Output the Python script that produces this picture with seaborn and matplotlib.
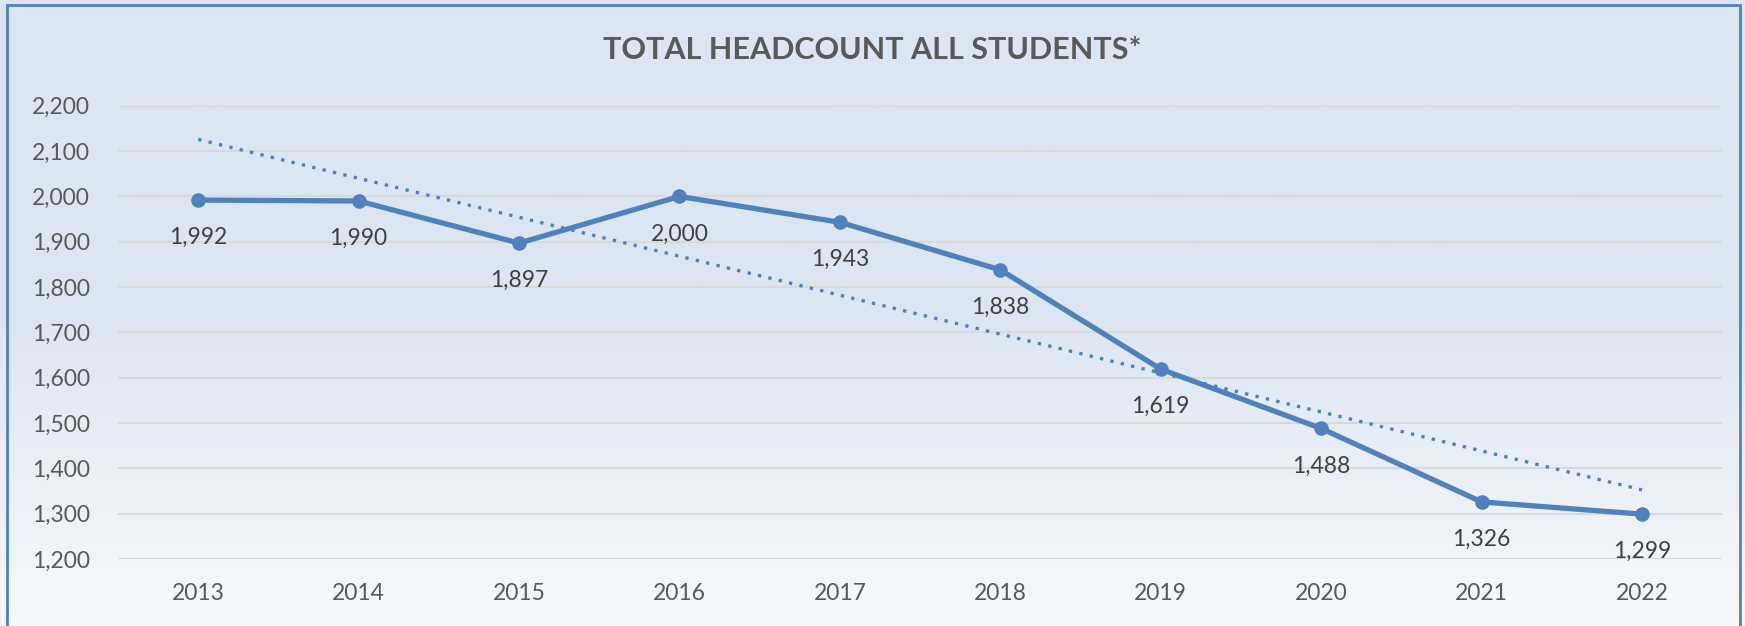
import numpy as np
import pandas as pd
import matplotlib.pyplot as plt
import seaborn as sns
from matplotlib.colors import LinearSegmentedColormap
from matplotlib.patches import Rectangle

years = [2013, 2014, 2015, 2016, 2017, 2018, 2019, 2020, 2021, 2022]
headcount = [1992, 1990, 1897, 2000, 1943, 1838, 1619, 1488, 1326, 1299]
y_ticks = [1200, 1300, 1400, 1500, 1600, 1700, 1800, 1900, 2000, 2100, 2200]

df = pd.DataFrame({"year": years, "headcount": headcount})

sns.set_style("white")
plt.rcParams['font.family'] = ['Lato', 'DejaVu Sans']

blue = "#4F81BD"
grey = "#595959"

fig = plt.figure(figsize=(17.45, 6.26), dpi=100)

# gradient background
bg = fig.add_axes([0, 0, 1, 1], zorder=-1)
cmap = LinearSegmentedColormap.from_list("bg", ["#DCE6F2", "#DCE6F2", "#F7F9FC"])
bg.imshow(np.linspace(0, 1, 256).reshape(-1, 1), aspect="auto", cmap=cmap,
          extent=[0, 1, 0, 1], origin="upper")
bg.add_patch(Rectangle((7 / 1745, -0.05), 1 - 12 / 1745, 1.05 - 5 / 626,
                       fill=False, edgecolor=blue, linewidth=2))
bg.set_xlim(0, 1)
bg.set_ylim(0, 1)
bg.axis("off")

ax = fig.add_axes([0.0676, 0.107, 0.987 - 0.0676, 0.831 - 0.107])
ax.set_facecolor("none")

# trendline (linear fit, like the Excel trendline)
sns.regplot(data=df, x="year", y="headcount", ax=ax, scatter=False, ci=None,
            truncate=True,
            line_kws=dict(color=blue, linestyle=(0, (1, 2.2)), linewidth=2.4))

sns.lineplot(data=df, x="year", y="headcount", ax=ax, color=blue, linewidth=3.8,
             marker="o", markersize=10.5, markeredgewidth=0)

for x, y in zip(years, headcount):
    ax.annotate(f"{y:,}", (x, y), xytext=(0, -27), textcoords="offset points",
                ha="center", va="center", fontsize=16.5, color="#404040")

ax.set_xlim(years[0] - 0.5, years[-1] + 0.5)
ax.set_ylim(y_ticks[0], y_ticks[-1])
ax.set_xticks(years)
ax.set_xticklabels([str(y) for y in years])
ax.set_yticks(y_ticks)
ax.set_yticklabels([f"{t:,}" for t in y_ticks])
ax.tick_params(axis="both", length=0, labelsize=16.5, labelcolor=grey)
ax.tick_params(axis="y", pad=20)
ax.tick_params(axis="x", pad=17)
ax.yaxis.grid(True, color="#D9D9D9", linewidth=1.5)
ax.set_axisbelow(True)
ax.set_xlabel("")
ax.set_ylabel("")
for s in ax.spines.values():
    s.set_visible(False)

fig.text(0.5, 0.92, "TOTAL HEADCOUNT ALL STUDENTS*", ha="center", va="center",
         fontsize=22, fontweight="bold", color=grey)

fig.savefig("out.png", dpi=100)
